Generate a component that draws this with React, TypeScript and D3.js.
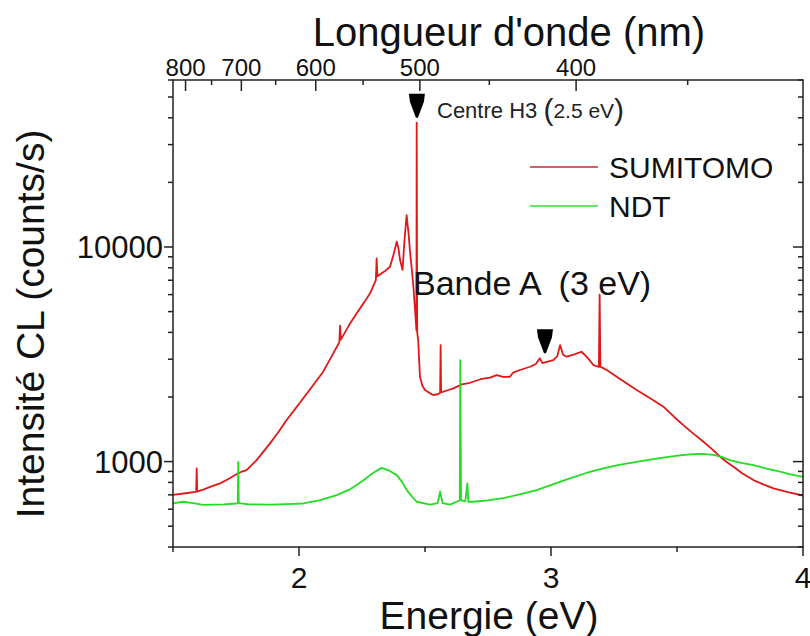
import * as d3 from 'd3';

// SUMITOMO spectrum (energy in eV, intensity in counts/s)
const sumitomoE = [
  1.5, 1.55, 1.59, 1.592, 1.594, 1.596, 1.62, 1.65, 1.687, 1.72, 1.753, 1.77, 1.792, 1.83, 1.885, 1.92,
  1.951, 1.985, 2.017, 2.05, 2.096, 2.13, 2.16, 2.163, 2.166, 2.2, 2.229, 2.26, 2.282, 2.305, 2.308, 2.311,
  2.34, 2.361, 2.375, 2.388, 2.395, 2.401, 2.411, 2.418, 2.427, 2.435, 2.44, 2.447, 2.454, 2.462, 2.466,
  2.467, 2.469, 2.473, 2.48, 2.49, 2.5, 2.52, 2.533, 2.55, 2.56, 2.562, 2.564, 2.59, 2.613, 2.646, 2.679,
  2.72, 2.758, 2.784, 2.81, 2.837, 2.85, 2.877, 2.917, 2.94, 2.956, 2.966, 2.976, 3.009, 3.025, 3.036,
  3.048, 3.062, 3.09, 3.121, 3.145, 3.168, 3.19, 3.193, 3.196, 3.221, 3.28, 3.34, 3.4, 3.446, 3.49, 3.525,
  3.565, 3.605, 3.64, 3.671, 3.7, 3.724, 3.76, 3.803, 3.84, 3.883, 3.94, 4.0,
];
const sumitomoI = [
  700, 712, 722, 725, 930, 725, 740, 765, 792, 830, 875, 895, 912, 1010, 1216, 1380,
  1563, 1760, 1972, 2220, 2624, 3100, 3600, 4300, 3700, 4350, 4910, 5550, 6083, 7000, 8850, 7300,
  7700, 8090, 9200, 10590, 9800, 8690, 7820, 10500, 14090, 11500, 9680, 8000, 6530, 4800, 4100,
  38000, 4000, 3680, 2485, 2250, 2155, 2080, 2042, 2060, 2090, 3490, 2100, 2150, 2193, 2290, 2330,
  2420, 2460, 2531, 2480, 2485, 2600, 2672, 2767, 2850, 3028, 2880, 2900, 2972, 3100, 3490,
  3150, 3083, 3150, 3250, 3050, 2818, 2760, 6000, 2770, 2672, 2400, 2155, 1950, 1803, 1610, 1479,
  1350, 1238, 1140, 1054, 990, 946, 880, 820, 785, 750, 720, 695,
];

// NDT spectrum
const ndtE = [
  1.5, 1.54, 1.58, 1.62, 1.7, 1.753, 1.757, 1.759, 1.761, 1.8, 1.885, 1.95, 2.017, 2.08, 2.15, 2.2,
  2.229, 2.26, 2.282, 2.31, 2.328, 2.36, 2.388, 2.41, 2.427, 2.447, 2.467, 2.52, 2.55, 2.56, 2.57, 2.6,
  2.625, 2.638, 2.64, 2.643, 2.66, 2.668, 2.672, 2.692, 2.75, 2.811, 2.88, 2.943, 3.01, 3.075, 3.14,
  3.208, 3.27, 3.34, 3.4, 3.472, 3.52, 3.565, 3.6, 3.645, 3.68, 3.71, 3.75, 3.803, 3.86, 3.909, 3.95, 4.0,
];
const ndtI = [
  638, 650, 640, 628, 632, 638, 640, 998, 640, 632, 630, 634, 638, 660, 698, 740,
  778, 825, 865, 910, 935, 905, 865, 800, 737, 690, 650, 630, 640, 724, 640, 630,
  650, 660, 2970, 660, 655, 792, 650, 650, 660, 675, 705, 737, 785, 836, 885,
  931, 965, 998, 1025, 1054, 1072, 1084, 1086, 1076, 1050, 1016, 990, 964, 925, 897, 872, 848,
];

const energyTicks = [2, 3, 4];
const energyMinorTicks = [1.5, 2.5, 3.5];
const wavelengthTicks = [800, 700, 600, 500, 400];
const wavelengthMinorTicks = [750, 650, 550, 450, 350];
const intensityTicks = [1000, 10000];
const seriesNames = ['SUMITOMO', 'NDT'];
const seriesColors = ['#e01818', '#22dd22'];
const legendColors = ['#c8283a', '#33dd33'];

const W = 810;
const H = 636;
const margin = { top: 80, right: 7, bottom: 89, left: 173 };
const FONT = 'Liberation Sans, Arial, sans-serif';

export default function App() {
  const iw = W - margin.left - margin.right;
  const ih = H - margin.top - margin.bottom;

  const x = d3.scaleLinear().domain([1.5, 4]).range([0, iw]);
  const y = d3.scaleLog().domain([400, 60000]).range([ih, 0]);
  const nmToX = (nm: number) => x(1239.84 / nm);

  const line = d3.line<[number, number]>()
    .x(d => x(d[0]))
    .y(d => y(d[1]));

  const series = [
    d3.zip(sumitomoE, sumitomoI) as [number, number][],
    d3.zip(ndtE, ndtI) as [number, number][],
  ];

  // minor ticks of the log axis: 2..9 per decade
  const minorY: number[] = [];
  [100, 1000, 10000].forEach(dec => {
    for (let k = 2; k <= 9; k++) {
      const v = dec * k;
      if (v >= 400 && v <= 60000 && !intensityTicks.includes(v)) minorY.push(v);
    }
  });

  const arrow = 'M-8,0 H8 L7,8 L1,24 H-1 L-7,8 Z';

  return (
    <svg width={W} height={H} style={{ position: 'absolute', left: 0, top: 0, background: '#fff' }} fontFamily={FONT}>
      <defs>
        <clipPath id="plot">
          <rect x={0} y={0} width={iw} height={ih} />
        </clipPath>
      </defs>

      {/* axis titles */}
      <text x={509} y={46} fontSize={40} textAnchor="middle" fill="#111">Longueur d'onde (nm)</text>
      <text x={489} y={629} fontSize={39} textAnchor="middle" fill="#111">Energie (eV)</text>
      <text transform="translate(44,324) rotate(-90)" fontSize={39} textAnchor="middle" fill="#111">Intensité CL (counts/s)</text>

      <g transform={`translate(${margin.left},${margin.top})`}>
        {/* spectra */}
        <g clipPath="url(#plot)">
          {series.map((s, i) => (
            <path key={seriesNames[i]} d={line(s) || ''} fill="none" stroke={seriesColors[i]} strokeWidth={1.8} strokeLinejoin="round" />
          ))}
        </g>

        {/* frame */}
        <rect x={0} y={0} width={iw} height={ih} fill="none" stroke="#222" strokeWidth={1.5} />

        {/* bottom axis */}
        {energyTicks.map(t => (
          <g key={t} transform={`translate(${x(t)},${ih})`}>
            <line y2={9} stroke="#222" strokeWidth={1.5} />
            <text y={41} fontSize={30} textAnchor="middle" fill="#111">{t}</text>
          </g>
        ))}
        {energyMinorTicks.map(t => (
          <line key={t} x1={x(t)} x2={x(t)} y1={ih} y2={ih + 5} stroke="#222" strokeWidth={1.5} />
        ))}

        {/* top axis (wavelength) */}
        {wavelengthTicks.map(t => (
          <g key={t} transform={`translate(${nmToX(t)},0)`}>
            <line y2={11} stroke="#222" strokeWidth={1.5} />
            <text y={-4} fontSize={24} textAnchor="middle" fill="#111">{t}</text>
          </g>
        ))}
        {wavelengthMinorTicks.map(t => (
          <line key={t} x1={nmToX(t)} x2={nmToX(t)} y1={0} y2={5} stroke="#222" strokeWidth={1.5} />
        ))}

        {/* left & right axes */}
        {intensityTicks.map(t => (
          <g key={t} transform={`translate(0,${y(t)})`}>
            <line x2={-9} stroke="#222" strokeWidth={1.5} />
            <line x1={iw} x2={iw - 10} stroke="#222" strokeWidth={1.5} />
            <text x={-10} dy="0.36em" fontSize={31} textAnchor="end" fill="#111">{t}</text>
          </g>
        ))}
        {minorY.map(t => (
          <g key={t} transform={`translate(0,${y(t)})`}>
            <line x2={-5} stroke="#222" strokeWidth={1.5} />
            <line x1={iw} x2={iw - 5} stroke="#222" strokeWidth={1.5} />
          </g>
        ))}

        {/* annotations */}
        <path d={arrow} transform={`translate(${x(2.468)},${y(40000) - 24})`} fill="#000" />
        <text x={264} y={38} fontSize={22} fill="#222">
          Centre H3 <tspan fontSize={30} dy={2}>(</tspan><tspan fontSize={21} dy={-2}>2.5 eV</tspan><tspan fontSize={30} dy={2}>)</tspan>
        </text>
        <path d={arrow} transform={`translate(${x(2.976)},${y(3200) - 24})`} fill="#000" />
        <text x={240} y={215} fontSize={34} fill="#111" style={{ whiteSpace: 'pre' }}>Bande A  (3 eV)</text>

        {/* legend */}
        {seriesNames.map((n, i) => (
          <g key={n} transform={`translate(${357},${87 + i * 39})`}>
            <line x1={0} x2={68} stroke={legendColors[i]} strokeWidth={1.5} />
            <text x={79} dy="0.35em" fontSize={30} fill="#111">{n}</text>
          </g>
        ))}
      </g>
    </svg>
  );
}
